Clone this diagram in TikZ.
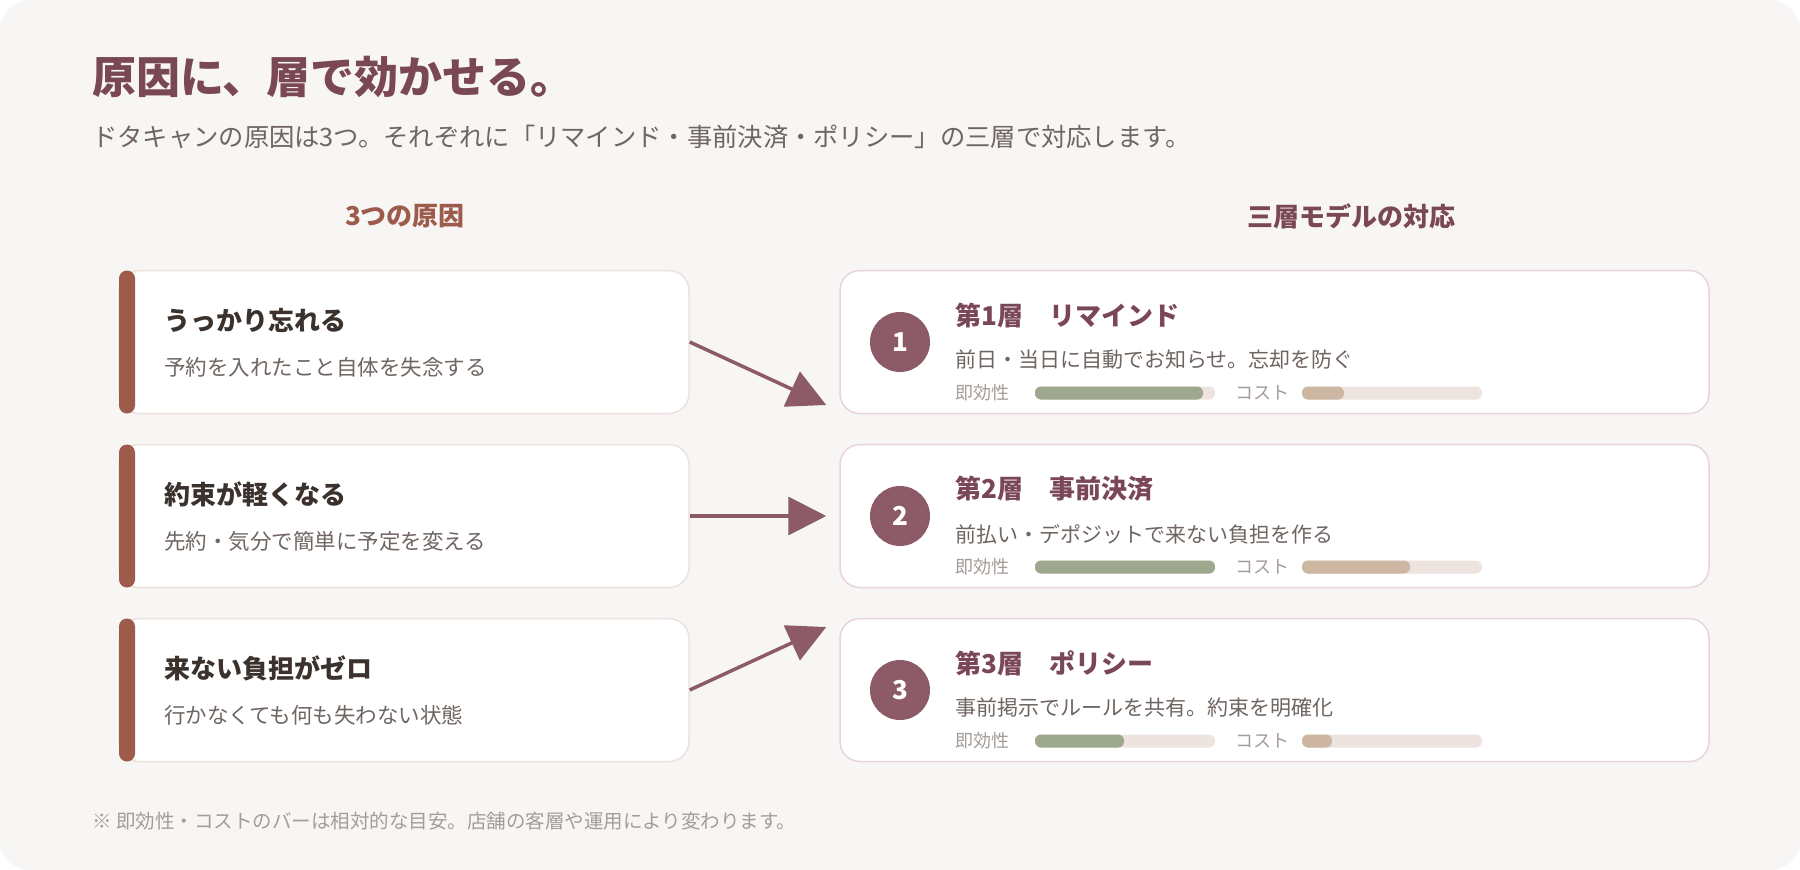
\documentclass[tikz,border=0pt]{standalone}
\usepackage{fontspec}
\setmainfont{Noto Sans CJK JP}
\usetikzlibrary{arrows.meta,calc}
\definecolor{bgc}{HTML}{F8F6F4}
\definecolor{plum}{HTML}{7A4756}
\definecolor{rust}{HTML}{9C5B4B}
\definecolor{ink}{HTML}{3B322E}
\definecolor{muted}{HTML}{6F6561}
\definecolor{faint}{HTML}{A59C97}
\definecolor{causeline}{HTML}{EBE2DD}
\definecolor{layerline}{HTML}{EAD3D9}
\definecolor{circ}{HTML}{8C5B67}
\definecolor{speed}{HTML}{9DA88F}
\definecolor{cost}{HTML}{CDB7A2}
\definecolor{track}{HTML}{EDE4DF}
\newcommand{\fs}[1]{\fontsize{#1}{#1}\selectfont}
% bar: x start, y, fill end, colour
\newcommand{\meter}[4]{%
  \fill[track,rounded corners=6pt] (#1,#2-6.5) rectangle (#1+180,#2+6.5);
  \fill[#4,rounded corners=6pt] (#1,#2-6.5) rectangle (#3,#2+6.5);}

\begin{document}
\begin{tikzpicture}[
    x=1pt,y=-1pt,
    cause/.style={draw=causeline,line width=1.5pt,fill=white,rounded corners=20pt,minimum width=570pt,minimum height=143pt},
    layer/.style={draw=layerline,line width=1.5pt,fill=white,rounded corners=20pt,minimum width=869pt,minimum height=143pt},
    num/.style={circle,fill=circ,text=white,minimum size=60pt,inner sep=0pt,font=\fs{26}\bfseries},
    txt/.style={anchor=west,inner sep=0pt},
    head/.style={txt,font=\fs{26}\bfseries,text=ink},
    sub/.style={txt,font=\fs{21.5},text=muted},
    lhead/.style={txt,font=\fs{26}\bfseries,text=plum},
    tag/.style={txt,font=\fs{18},text=faint},
    arr/.style={-{Triangle[length=38pt,width=38pt]},line width=3.5pt,draw=circ}
]
\useasboundingbox (0,0) rectangle (1800,870);
\fill[white] (0,0) rectangle (1800,870);
\fill[bgc,rounded corners=30pt] (0,0) rectangle (1800,870);

\node[txt,font=\fs{44}\bfseries,text=plum] (title) at (92,77) {原因に、層で効かせる。};
\node[txt,font=\fs{25.3},text=muted] (lead) at (92,137) {ドタキャンの原因は3つ。それぞれに「リマインド・事前決済・ポリシー」の三層で対応します。};
\node[font=\fs{26}\bfseries,text=rust,inner sep=0pt] (hcause) at (405,216) {3つの原因};
\node[font=\fs{26}\bfseries,text=plum,inner sep=0pt] (hlayer) at (1351,216) {三層モデルの対応};

% causes
\foreach \i/\y/\t/\d in {1/342/うっかり忘れる/予約を入れたこと自体を失念する,
                         2/516/約束が軽くなる/先約・気分で簡単に予定を変える,
                         3/690/来ない負担がゼロ/行かなくても何も失わない状態}{
  \node[cause] (c\i) at (404,\y) {};
  \fill[rust,rounded corners=8pt] (119,\y-71.5) rectangle (135,\y+71.5);
  \node[head] (ct\i) at (164,\y-22) {\t};
  \node[sub] (cd\i) at (164,\y+25) {\d};
}

% layers
\foreach \i/\y/\t/\d/\s/\c in {1/342/リマインド/前日・当日に自動でお知らせ。忘却を防ぐ/1203/1344,
                               2/516/事前決済/前払い・デポジットで来ない負担を作る/1215/1410,
                               3/690/ポリシー/事前掲示でルールを共有。約束を明確化/1124/1332}{
  \node[layer] (l\i) at (1274.5,\y) {};
  \node[num] (n\i) at (900,\y) {\i};
  \node[lhead] (lt\i) at (955,\y-27) {第\i 層\hspace{1em}\t};
  \node[sub,font=\fs{21}] (ld\i) at (955,\y+18) {\d};
  \node[tag] (ls\i) at (955,\y+51) {即効性};
  \node[tag] (lc\i) at (1235,\y+51) {コスト};
  \meter{1035}{\y+51}{\s}{speed}
  \meter{1302}{\y+51}{\c}{cost}
}

\coordinate (p1) at ($(l1.west)+(-13,63)$);
\coordinate (p2) at ($(l2.west)+(-13,0)$);
\coordinate (p3) at ($(l3.west)+(-13,-63)$);
\draw[arr] (c1.east) -- (p1);
\draw[arr] (c2.east) -- (p2);
\draw[arr] (c3.east) -- (p3);

\node[txt,font=\fs{19.5},text=faint] (note) at (92,821) {※ 即効性・コストのバーは相対的な目安。店舗の客層や運用により変わります。};
\end{tikzpicture}
\end{document}
